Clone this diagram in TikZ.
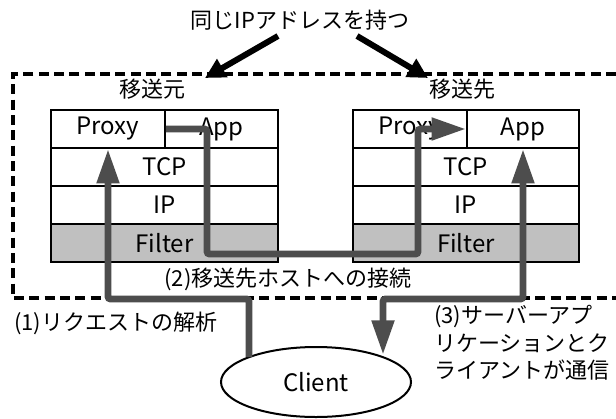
\documentclass[tikz,border=0pt]{standalone}
\usepackage{fontspec}
\newfontfamily\jp{Noto Sans CJK JP}
\usetikzlibrary{arrows.meta,shapes.geometric}
\definecolor{flowgray}{HTML}{4D4D4D}
\definecolor{filtgray}{HTML}{C0C0C0}
\tikzset{
  cell/.style={draw, line width=1.2pt, minimum height=38*0.75pt, inner sep=0pt, font=\jp\fontsize{18}{18}\selectfont},
  jlabel/.style={font=\jp\fontsize{16.5}{20.6}\selectfont, inner sep=0pt, align=left},
  flow/.style={draw=flowgray, line width=5.2pt, rounded corners=2pt,
     -{Triangle[length=26pt,width=16pt,fill=flowgray]}},
  flowboth/.style={draw=flowgray, line width=5.2pt, rounded corners=2pt,
     {Triangle[length=26pt,width=16pt,fill=flowgray]}-{Triangle[length=26pt,width=16pt,fill=flowgray]}},
  blk/.style={draw=black, line width=4.5pt, -{Triangle[length=15pt,width=15pt]}},
  hostbox/.style={draw=black, line width=2.6pt, dash pattern=on 7.5pt off 4pt},
}
\begin{document}
\begin{tikzpicture}[x=0.75pt,y=-0.75pt]
\useasboundingbox (0,0) rectangle (616,418);
% dashed host boundary
\draw[hostbox] (616,74) -- (13,74) -- (13,298) -- (616,298);
% top label
\node[jlabel] (same) at (300,20) {同じIPアドレスを持つ};
\coordinate (sameL) at (278,36);
\coordinate (sameR) at (357,36);
\coordinate (tipL) at (205,78);
\coordinate (tipR) at (428,78);
\draw[blk] (sameL) -- (tipL);
\draw[blk] (sameR) -- (tipR);
% host labels
\node[jlabel] (srcL) at (152,89) {移送元};
\node[jlabel] (dstL) at (462,89) {移送先};
% left stack
\node[cell, minimum width=114*0.75pt] (proxyL) at (108,129) {Proxy};
\node[cell, minimum width=113*0.75pt] (appL) at (221.5,129) {App};
\node[cell, minimum width=227*0.75pt] (tcpL) at (164.5,167) {TCP};
\node[cell, minimum width=227*0.75pt] (ipL) at (164.5,205) {IP};
\node[cell, minimum width=227*0.75pt, fill=filtgray] (filterL) at (164.5,243) {Filter};
% right stack
\node[cell, minimum width=114*0.75pt] (proxyR) at (410,129) {Proxy};
\node[cell, minimum width=112*0.75pt] (appR) at (523,129) {App};
\node[cell, minimum width=226*0.75pt] (tcpR) at (466,167) {TCP};
\node[cell, minimum width=226*0.75pt] (ipR) at (466,205) {IP};
\node[cell, minimum width=226*0.75pt, fill=filtgray] (filterR) at (466,243) {Filter};
% client
\node[draw, line width=1.5pt, ellipse, minimum width=190*0.75pt, minimum height=70*0.75pt, inner sep=0pt, font=\jp\fontsize{18}{18}\selectfont] (client) at (316,382) {Client};
% flows
\coordinate (c1) at (249,357);
\coordinate (c1up) at (249,299);
\draw[flow] (c1) -- (c1up) -| (proxyL.south);
\coordinate (p2a) at (207,129);
\coordinate (p2b) at (207,254);
\coordinate (p2c) at (418,254);
\coordinate (p2d) at (418,129);
\draw[flow] (proxyL.east) -- (p2a) -- (p2b) -- (p2c) -- (p2d) -- (appR.west);
\coordinate (c3) at (383,355);
\coordinate (c3up) at (383,299);
\draw[flowboth] (appR.south) |- (c3up) -- (c3);
% step labels
\node[jlabel] (lab2) at (288,279) {(2)移送先ホストへの接続};
\node[jlabel, anchor=west] (lab1) at (14,323) {(1)リクエストの解析};
\node[jlabel, anchor=north west, text width=180*0.75pt] (lab3) at (434,305) {(3)サーバーアプ\\リケーションとク\\ライアントが通信};
\end{tikzpicture}
\end{document}
